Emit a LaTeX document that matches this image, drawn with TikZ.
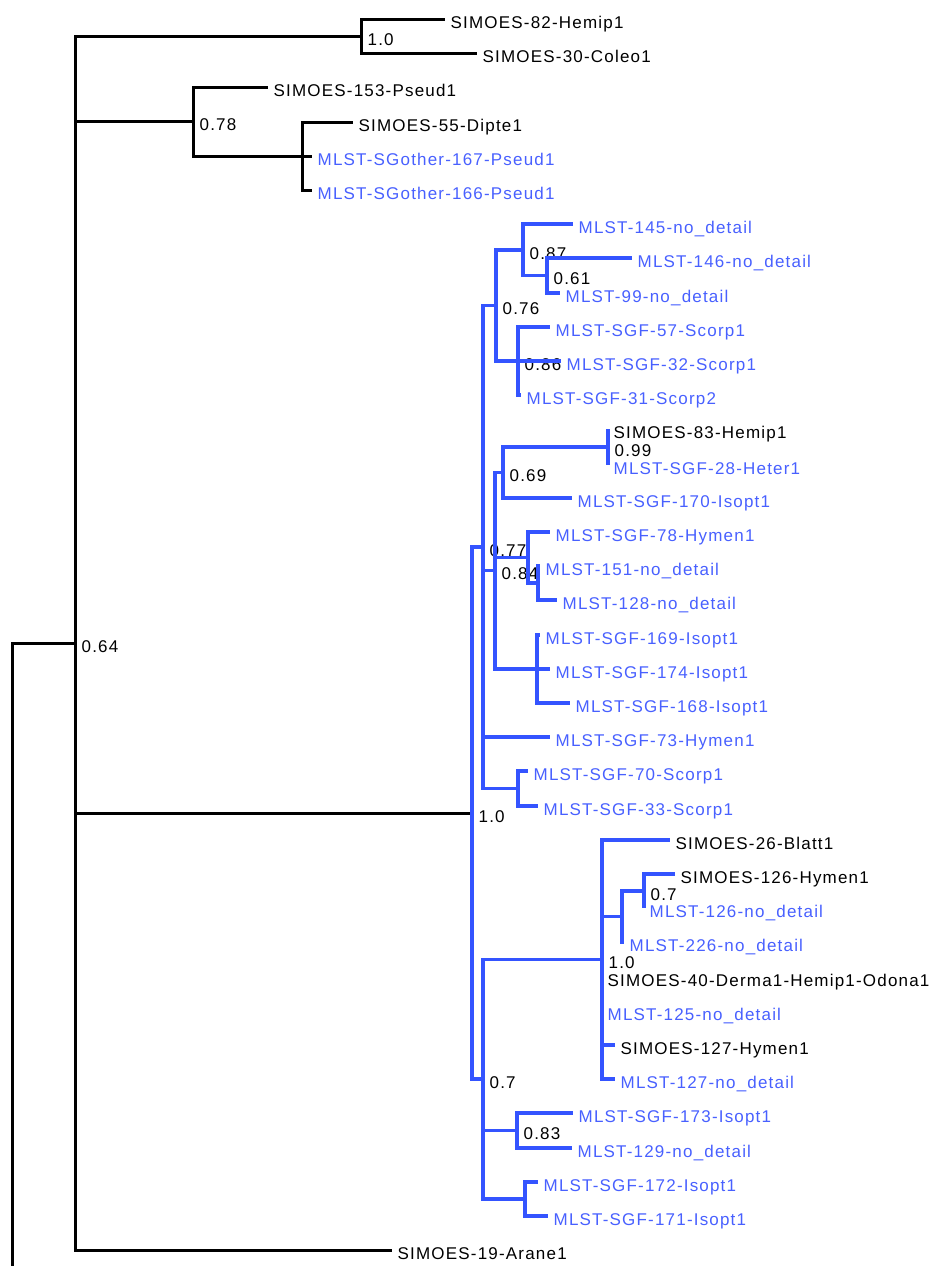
\documentclass[tikz,border=0pt]{standalone}
\usepackage{fontspec}
\setmainfont{Liberation Sans}[LetterSpace=7]
\usepackage{xcolor}
\usepackage{tikz}
\definecolor{cladeblue}{RGB}{52,84,255}
\definecolor{tipblue}{RGB}{72,96,255}
\tikzset{
  branch/.style={line width=3pt, line join=miter},
  bluebranch/.style={branch, line width=3.6pt, draw=cladeblue},
  taxon/.style={anchor=west, inner xsep=5.5pt, inner ysep=0pt, text height=18pt, text depth=0pt,
    font=\fontsize{17}{20}\selectfont},
  simtaxon/.style={taxon, text=black},
  mlsttaxon/.style={taxon, text=tipblue},
  support/.style={taxon, inner xsep=6.5pt, text=black},
}

\begin{document}
\begin{tikzpicture}[x=1pt, y=-1pt]
    \useasboundingbox (0,0) rectangle (938,1266);

    % inner nodes of the tree
    \coordinate (root) at (12,643);
    \coordinate (cut)  at (12,1266);
    \coordinate (n064) at (75,643);
    \coordinate (n10a) at (361,36);
    \coordinate (n078) at (193,121.5);
    \coordinate (nsg)  at (302,156);
    \coordinate (n10b) at (472,813);
    \coordinate (n077) at (483,547);
    \coordinate (n076) at (496,305.5);
    \coordinate (n087) at (523,250);
    \coordinate (n061) at (547,275.5);
    \coordinate (n086) at (518,361);
    \coordinate (n084) at (495,570.5);
    \coordinate (n069) at (503,472.5);
    \coordinate (n099) at (608,447);
    \coordinate (nhy)  at (528,557.5);
    \coordinate (nhy2) at (538,583);
    \coordinate (nis)  at (537,669);
    \coordinate (nsc)  at (518,788.5);
    \coordinate (n07)  at (483,1079);
    \coordinate (n10c) at (602,959.5);
    \coordinate (nh)   at (622,916.5);
    \coordinate (nh07) at (644,891);
    \coordinate (n083) at (517,1130.5);
    \coordinate (nis2) at (525,1199);

    % support values
    \foreach \n/\v in {n064/0.64, n10a/1.0, n078/0.78, n10b/1.0, n077/0.77, n076/0.76,
        n087/0.87, n061/0.61, n086/0.86, n084/0.84, n069/0.69, n099/0.99,
        n07/0.7, n10c/1.0, nh07/0.7, n083/0.83}
        \node[support] (s\n) at (\n) {\v};

    % leaves
    \node[simtaxon]  (h82)   at (445,19)   {SIMOES-82-Hemip1};
    \node[simtaxon]  (c30)   at (477,53)   {SIMOES-30-Coleo1};
    \node[simtaxon]  (p153)  at (268,87)   {SIMOES-153-Pseud1};
    \node[simtaxon]  (d55)   at (353,122)  {SIMOES-55-Dipte1};
    \node[mlsttaxon] (sg167) at (312,156)  {MLST-SGother-167-Pseud1};
    \node[mlsttaxon] (sg166) at (312,190)  {MLST-SGother-166-Pseud1};
    \node[mlsttaxon] (m145)  at (573,224)  {MLST-145-no\_detail};
    \node[mlsttaxon] (m146)  at (632,258)  {MLST-146-no\_detail};
    \node[mlsttaxon] (m99)   at (560,293)  {MLST-99-no\_detail};
    \node[mlsttaxon] (s57)   at (550,327)  {MLST-SGF-57-Scorp1};
    \node[mlsttaxon] (s32)   at (561,361)  {MLST-SGF-32-Scorp1};
    \node[mlsttaxon] (s31)   at (521,395)  {MLST-SGF-31-Scorp2};
    \node[simtaxon]  (h83)   at (608,429)  {SIMOES-83-Hemip1};
    \node[mlsttaxon] (t28)   at (608,465)  {MLST-SGF-28-Heter1};
    \node[mlsttaxon] (i170)  at (572,498)  {MLST-SGF-170-Isopt1};
    \node[mlsttaxon] (y78)   at (550,532)  {MLST-SGF-78-Hymen1};
    \node[mlsttaxon] (m151)  at (540,566)  {MLST-151-no\_detail};
    \node[mlsttaxon] (m128)  at (557,600)  {MLST-128-no\_detail};
    \node[mlsttaxon] (i169)  at (540,635)  {MLST-SGF-169-Isopt1};
    \node[mlsttaxon] (i174)  at (550,669)  {MLST-SGF-174-Isopt1};
    \node[mlsttaxon] (i168)  at (570,703)  {MLST-SGF-168-Isopt1};
    \node[mlsttaxon] (y73)   at (550,737)  {MLST-SGF-73-Hymen1};
    \node[mlsttaxon] (s70)   at (528,771)  {MLST-SGF-70-Scorp1};
    \node[mlsttaxon] (s33)   at (538,806)  {MLST-SGF-33-Scorp1};
    \node[simtaxon]  (b26)   at (670,840)  {SIMOES-26-Blatt1};
    \node[simtaxon]  (h126)  at (675,874)  {SIMOES-126-Hymen1};
    \node[mlsttaxon] (m126)  at (644,908)  {MLST-126-no\_detail};
    \node[mlsttaxon] (m226)  at (624,942)  {MLST-226-no\_detail};
    \node[simtaxon]  (d40)   at (602,977)  {SIMOES-40-Derma1-Hemip1-Odona1};
    \node[mlsttaxon] (m125)  at (602,1011) {MLST-125-no\_detail};
    \node[simtaxon]  (h127)  at (615,1045) {SIMOES-127-Hymen1};
    \node[mlsttaxon] (m127)  at (615,1079) {MLST-127-no\_detail};
    \node[mlsttaxon] (i173)  at (573,1113) {MLST-SGF-173-Isopt1};
    \node[mlsttaxon] (m129)  at (572,1148) {MLST-129-no\_detail};
    \node[mlsttaxon] (i172)  at (538,1182) {MLST-SGF-172-Isopt1};
    \node[mlsttaxon] (i171)  at (548,1216) {MLST-SGF-171-Isopt1};
    \node[simtaxon]  (a19)   at (392,1250) {SIMOES-19-Arane1};

    % black part of the tree
    \draw[branch] (cut) -- (root) -- (n064);
    \foreach \p/\c in {n064/n10a, n064/n078, n064/n10b, n064/a19, n10a/h82, n10a/c30,
        n078/p153, n078/nsg, nsg/d55, nsg/sg167, nsg/sg166}
        \draw[branch] (\p) |- (\c);

    % blue clade
    \foreach \p/\c in {n10b/n077, n10b/n07, n077/n076, n077/n084, n077/y73, n077/nsc,
        n076/n087, n076/n086, n087/m145, n087/n061, n061/m146, n061/m99,
        n086/s57, n086/s32, n086/s31, n084/n069, n084/nhy, n084/nis,
        n069/n099, n069/i170, n099/h83, n099/t28, nhy/y78, nhy/nhy2,
        nhy2/m151, nhy2/m128, nis/i169, nis/i174, nis/i168, nsc/s70, nsc/s33,
        n07/n10c, n07/n083, n07/nis2, n10c/b26, n10c/nh, n10c/d40, n10c/m125,
        n10c/h127, n10c/m127, nh/nh07, nh/m226, nh07/h126, nh07/m126,
        n083/i173, n083/m129, nis2/i172, nis2/i171}
        \draw[bluebranch] (\p) |- (\c);
\end{tikzpicture}
\end{document}
